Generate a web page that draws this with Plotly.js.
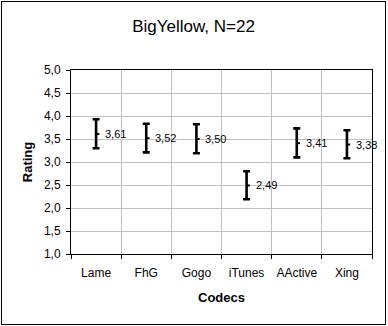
<!DOCTYPE html>
<html>
<head>
<meta charset="utf-8">
<script src="https://cdn.plot.ly/plotly-3.0.1.min.js"></script>
<style>
  html, body { margin: 0; padding: 0; background: #fff; }
  #frame { position: absolute; left: 1px; top: 1px; width: 383px; height: 322px; border: 1px solid #000; }
  #chart { width: 383px; height: 322px; }
</style>
</head>
<body>
<div id="frame"><div id="chart"></div></div>
<script>
const codecs = ["Lame", "FhG", "Gogo", "iTunes", "AActive", "Xing"];
const ratings = [3.61, 3.52, 3.50, 2.49, 3.41, 3.38];
const errHigh = [0.32, 0.31, 0.32, 0.31, 0.32, 0.31];
const errLow  = [0.31, 0.31, 0.31, 0.30, 0.31, 0.30];
const yTicks = [1.0, 1.5, 2.0, 2.5, 3.0, 3.5, 4.0, 4.5, 5.0];

const idx = codecs.map((_, i) => i);
const FONT = "Liberation Sans, Arial, sans-serif";

// high-low bars
const bars = {
  type: "scatter", mode: "markers",
  x: idx, y: ratings,
  marker: { size: 1, color: "rgba(0,0,0,0)" },
  error_y: { type: "data", symmetric: false, array: errHigh, arrayminus: errLow,
             color: "#000", thickness: 2.6, width: 3.5 },
  hoverinfo: "skip", showlegend: false
};

// close ticks (short dash on the right of each bar)
const tx = [], ty = [];
idx.forEach((i) => { tx.push(i, i + 0.065, null); ty.push(ratings[i], ratings[i], null); });
const closeTicks = {
  type: "scatter", mode: "lines", x: tx, y: ty,
  line: { color: "#000", width: 2 }, hoverinfo: "skip", showlegend: false
};

const labels = idx.map((i) => ({
  x: i, y: ratings[i], xref: "x", yref: "y",
  text: ratings[i].toFixed(2).replace(".", ","),
  showarrow: false, xanchor: "left", yanchor: "middle", xshift: 7,
  font: { family: FONT, size: 11, color: "#000" }
}));

const layout = {
  width: 383, height: 322,
  margin: { l: 69, r: 13, t: 68, b: 70 },
  paper_bgcolor: "#fff", plot_bgcolor: "#fff",
  separators: ",.",
  font: { family: FONT, color: "#000", size: 12 },
  title: { text: "BigYellow, N=22", font: { family: FONT, size: 17, color: "#000" },
           xref: "container", x: 0.5, xanchor: "center", yref: "container", y: 0.925, yanchor: "middle" },
  xaxis: {
    range: [-0.5, codecs.length - 0.5],
    tickmode: "array", tickvals: idx, ticktext: codecs, ticks: "",
    ticklabelstandoff: 8,
    showgrid: false, zeroline: false,
    showline: true, linecolor: "#000", linewidth: 1, mirror: true,
    tickfont: { family: FONT, size: 12, color: "#000" },
    minor: { tickmode: "array", tickvals: idx.map(i => i + 0.5).concat([-0.5]),
             ticks: "outside", ticklen: 4, tickcolor: "#000", tickwidth: 1,
             showgrid: true, gridcolor: "#c0c0c0", gridwidth: 1 },
    title: { text: "<b>Codecs</b>", font: { family: FONT, size: 13, color: "#000" }, standoff: 13 },
    fixedrange: true
  },
  yaxis: {
    range: [1, 5],
    tickmode: "array", tickvals: yTicks, tickformat: ".1f",
    ticks: "outside", ticklen: 4, tickcolor: "#000", tickwidth: 1,
    ticklabelstandoff: 3,
    showgrid: true, gridcolor: "#c0c0c0", gridwidth: 1, zeroline: false,
    showline: true, linecolor: "#000", linewidth: 1, mirror: true,
    tickfont: { family: FONT, size: 12, color: "#000" },
    title: { text: "<b>Rating</b>", font: { family: FONT, size: 13, color: "#000" }, standoff: 8 },
    fixedrange: true
  },
  annotations: labels,
  showlegend: false
};

Plotly.newPlot("chart", [bars, closeTicks], layout, { displayModeBar: false, staticPlot: true });
</script>
</body>
</html>
